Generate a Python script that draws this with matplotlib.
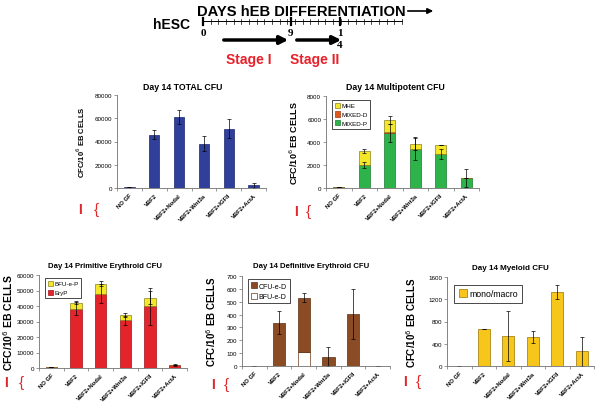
import numpy as np
import matplotlib.pyplot as plt

plt.rcParams['font.family'] = ['Liberation Sans', 'DejaVu Sans']

groups = ['NO GF', 'VBF2', 'VBF2+Nodal', 'VBF2+Wnt3a', 'VBF2+IGFII', 'VBF2+ActA']

# Day 14 total CFU
total_cfu = [500, 45700, 60900, 38000, 51100, 2300]
total_err = [0, 3800, 6200, 6600, 8300, 2000]

# multipotent (stacked: MIXED-P, MIXED-D, MHE)
mixed_p = [50, 2000, 4780, 3400, 2960, 860]
mixed_p_err = [0, 230, 790, 1000, 400, 750]
mixed_d = [0, 0, 110, 0, 0, 0]
mhe = [0, 1220, 1040, 430, 810, 0]
multi_err = [0, 180, 340, 520, 0, 0]

# primitive erythroid (stacked: EryP, BFU-e-P)
eryp = [500, 38300, 48000, 30700, 39800, 1700]
eryp_err = [0, 4000, 6000, 3000, 12000, 0]
bfu_e_p = [0, 3850, 6400, 3700, 5500, 0]
prim_err = [0, 1100, 1500, 1300, 4300, 700]

# definitive erythroid (stacked: BFU-e-D, CFU-e-D)
bfu_e_d = [0, 0, 109, 0, 0, 0]
cfu_e_d = [0, 338, 423, 73, 402, 0]
def_err = [0, 92, 35, 75, 195, 0]

# myeloid
mono_macro = [0, 666, 535, 517, 1337, 262]
mono_err = [0, 0, 450, 105, 125, 255]

# timeline days
day_marks = [0, 9, 14]

W, H = 600, 410
fig = plt.figure(figsize=(6, 4.1), dpi=100)

# overlay in pixel coords for the schematic and side marks
bg = fig.add_axes([0, 0, 1, 1])
bg.set_xlim(0, W)
bg.set_ylim(H, 0)
bg.axis('off')

bg.text(171, 25, 'hESC', fontsize=10, fontweight='bold', ha='center', va='center')
bg.text(197, 12, 'DAYS hEB DIFFERENTIATION', fontsize=10.6, fontweight='bold', ha='left', va='center')
bg.annotate('', xy=(436, 12), xytext=(405, 12),
            arrowprops=dict(arrowstyle='-|>', color='black', lw=1.2, mutation_scale=8))
x0, x1 = 203, 402
px_day = 9.75
bg.plot([x0, x1], [22, 22], color='black', lw=0.7)
for t in np.linspace(x0, x1, 27):
    bg.plot([t, t], [19.5, 24.5], color='black', lw=0.5)
for d in day_marks:
    xp = x0 + d * px_day
    bg.plot([xp, xp], [18.5, 25.5], color='black', lw=1.6)
serif = ['Liberation Serif', 'DejaVu Serif']
bg.text(x0 + day_marks[0] * px_day, 33, '0', fontsize=8, fontweight='bold', family=serif, ha='center', va='center')
bg.text(x0 + day_marks[1] * px_day, 33, '9', fontsize=8, fontweight='bold', family=serif, ha='center', va='center')
bg.text(x0 + day_marks[2] * px_day, 33, '1', fontsize=8, fontweight='bold', family=serif, ha='center', va='center')
bg.text(x0 + day_marks[2] * px_day, 46, '4', fontsize=8, fontweight='bold', family=serif, ha='center', va='center')
bg.annotate('', xy=(291, 41), xytext=(221, 41),
            arrowprops=dict(arrowstyle='-|>', color='black', lw=2.5, mutation_scale=12))
bg.annotate('', xy=(344, 41), xytext=(294, 41),
            arrowprops=dict(arrowstyle='-|>', color='black', lw=2.5, mutation_scale=12))
bg.text(249, 60, 'Stage I', fontsize=10, fontweight='bold', color='#e8202a', ha='center', va='center')
bg.text(315, 60, 'Stage II', fontsize=10, fontweight='bold', color='#e8202a', ha='center', va='center')

for xi, xb, yy in [(80, 96, 210), (296, 308, 212), (6, 21, 383), (213, 226, 385), (405, 418, 382)]:
    bg.text(xi, yy, 'I', fontsize=10, fontweight='bold', color='#e0282c', ha='center', va='center')
    bg.text(xb, yy, '{', fontsize=11, color='#e0282c', ha='center', va='center')


def make_ax(l, b, w, h):
    return fig.add_axes([l / W, 1 - b / H, w / W, h / H])


def style(ax, ymax, yticks, title, tx, ty, lab_x, lab_size, tsize=6.3):
    x = np.arange(len(groups))
    ax.set_xlim(-0.5, len(groups) - 0.5)
    ax.set_ylim(0, ymax)
    ax.set_yticks(yticks)
    ax.set_xticks(x)
    ax.set_xticklabels(groups, rotation=45, ha='right', rotation_mode='anchor', fontsize=4.2, fontweight='bold')
    ax.set_xticks(np.arange(-0.5, len(groups)), minor=True)
    ax.tick_params(axis='x', which='major', length=0, pad=3)
    ax.tick_params(axis='x', which='minor', length=2, width=0.5, color='#707070')
    ax.tick_params(axis='y', labelsize=4.5, length=2, width=0.5, color='#707070', pad=1.5)
    for s in ['top', 'right']:
        ax.spines[s].set_visible(False)
    for s in ['left', 'bottom']:
        ax.spines[s].set_color('#707070')
        ax.spines[s].set_linewidth(0.6)
    ax.set_ylabel('CFC/10$^6$ EB CELLS', fontsize=lab_size, fontweight='bold')
    ax.yaxis.set_label_coords(lab_x, 0.5)
    fig.text(tx / W, 1 - ty / H, title, fontsize=tsize, fontweight='bold', ha='center', va='center')
    ax.patch.set_alpha(0)


eb = dict(ecolor='black', elinewidth=0.5, capsize=1.5, capthick=0.5)
x = np.arange(len(groups))

# panel 1
ax1 = make_ax(117, 189, 149, 93)
ax1.bar(x, total_cfu, 0.42, color='#2f3f9a', edgecolor='#1c2870', lw=0.5, yerr=total_err, error_kw=eb)
style(ax1, 80000, [0, 20000, 40000, 60000, 80000], 'Day 14 TOTAL CFU', 183, 88, -0.2, 5.5)

# panel 2
ax2 = make_ax(326, 189, 153, 92)
b_p = np.array(mixed_p)
b_d = b_p + np.array(mixed_d)
ax2.bar(x, mixed_p, 0.45, color='#2db34a', edgecolor='#1c7a30', lw=0.5, label='MIXED-P')
ax2.bar(x, mixed_d, 0.45, bottom=b_p, color='#e0581c', edgecolor='#a03a10', lw=0.5, label='MIXED-D')
ax2.bar(x, mhe, 0.45, bottom=b_d, color='#f4e628', edgecolor='#8a8020', lw=0.5, label='MHE')
ax2.errorbar(x, b_p, yerr=mixed_p_err, fmt='none', **eb)
ax2.errorbar(x, b_d + np.array(mhe), yerr=multi_err, fmt='none', **eb)
h, l = ax2.get_legend_handles_labels()
ax2.legend(h[::-1], l[::-1], loc='upper left', bbox_to_anchor=(0.02, 0.99), fontsize=4.5,
           fancybox=False, edgecolor='black', framealpha=1, handlelength=0.9, handleheight=0.9,
           handletextpad=0.2, borderpad=0.4, labelspacing=0.5).get_frame().set_linewidth(0.5)
style(ax2, 8000, [0, 2000, 4000, 6000, 8000], 'Day 14 Multipotent CFU', 395, 87, -0.17, 6.5)

# panel 3
ax3 = make_ax(39, 369, 148, 93)
ax3.bar(x, eryp, 0.45, color='#e3242b', edgecolor='#a01018', lw=0.5, label='EryP')
ax3.bar(x, bfu_e_p, 0.45, bottom=eryp, color='#f4e628', edgecolor='#8a8020', lw=0.5, label='BFU-e-P')
ax3.errorbar(x, eryp, yerr=eryp_err, fmt='none', **eb)
ax3.errorbar(x, np.array(eryp) + np.array(bfu_e_p), yerr=prim_err, fmt='none', **eb)
h, l = ax3.get_legend_handles_labels()
ax3.legend(h[::-1], l[::-1], loc='upper left', bbox_to_anchor=(0.02, 1.0), fontsize=4.5,
           fancybox=False, edgecolor='black', framealpha=1, handlelength=0.9, handleheight=0.9,
           handletextpad=0.2, borderpad=0.4, labelspacing=0.5).get_frame().set_linewidth(0.5)
style(ax3, 60000, [0, 10000, 20000, 30000, 40000, 50000, 60000], 'Day 14 Primitive Erythroid CFU', 105, 267, -0.16, 7.5, 5.6)

# panel 4
ax4 = make_ax(242, 367, 148, 90)
ax4.bar(x, bfu_e_d, 0.5, color='white', edgecolor='#6a3a18', lw=0.5, label='BFU-e-D')
ax4.bar(x, cfu_e_d, 0.5, bottom=bfu_e_d, color='#8b4b24', edgecolor='#5e3010', lw=0.5, label='CFU-e-D')
ax4.errorbar(x, np.array(bfu_e_d) + np.array(cfu_e_d), yerr=def_err, fmt='none', **eb)
h, l = ax4.get_legend_handles_labels()
ax4.legend(h[::-1], l[::-1], loc='upper left', bbox_to_anchor=(0.02, 1.0), fontsize=5,
           fancybox=False, edgecolor='black', framealpha=1, handlelength=0.9, handleheight=0.9,
           handletextpad=0.2, borderpad=0.4, labelspacing=0.5).get_frame().set_linewidth(0.5)
style(ax4, 700, [0, 100, 200, 300, 400, 500, 600, 700], 'Day 14 Definitive Erythroid CFU', 311, 267, -0.16, 7, 5.6)

# panel 5
ax5 = make_ax(447, 367, 147, 89)
ax5.bar(x, mono_macro, 0.48, color='#f7c61a', edgecolor='#9a7400', lw=0.5, label='mono/macro',
        yerr=mono_err, error_kw=eb)
ax5.legend(loc='upper left', bbox_to_anchor=(0.02, 0.96), fontsize=6.3,
           fancybox=False, edgecolor='black', framealpha=1, handlelength=0.9, handleheight=1.0,
           handletextpad=0.3, borderpad=0.5).get_frame().set_linewidth(0.5)
style(ax5, 1600, [0, 400, 800, 1200, 1600], 'Day 14 Myeloid CFU', 510, 268, -0.2, 7, 5.8)

fig.savefig('out.png', dpi=100)
